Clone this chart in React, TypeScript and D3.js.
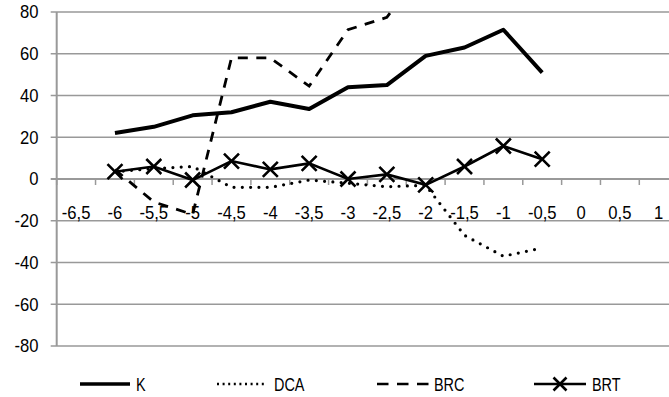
import React from "react";
import * as d3 from "d3";

const categories = ["-6,5", "-6", "-5,5", "-5", "-4,5", "-4", "-3,5", "-3", "-2,5", "-2", "-1,5", "-1", "-0,5", "0", "0,5", "1"];
const yTicks = [-80, -60, -40, -20, 0, 20, 40, 60, 80];

const seriesK: (number | null)[] = [null, 22, 25, 30.5, 32, 37, 33.5, 44, 45, 59, 63, 71.5, 51, null, null, null];
const seriesDCA: (number | null)[] = [null, 3.5, 5, 6, -4, -4, -0.5, -2, -3.7, -3, -27, -37, -33, null, null, null];
const seriesBRC: (number | null)[] = [null, 4.5, -11, -17, 58, 58, 44.5, 71.5, 77.4, 103, null, null, null, null, null, null];
const seriesBRT: (number | null)[] = [null, 3.5, 6, -0.5, 8.6, 4.6, 7.5, 0, 2.2, -2.8, 6, 15.8, 9.5, null, null, null];
const legendNames = ["K", "DCA", "BRC", "BRT"];

const W = 669;
const H = 397;
const left = 56.7;
const step = 38.84;
const top = 12;
const bottom = 346;
const font = "'Liberation Sans', Arial, sans-serif";

function T({ x, y, anchor, size, sx, children }: { x: number; y: number; anchor: "start" | "middle" | "end"; size: number; sx: number; children: React.ReactNode }) {
  return (
    <text transform={`translate(${x},${y}) scale(${sx},1)`} dy="0.36em" textAnchor={anchor} fontFamily={font} fontSize={size} fill="#000">
      {children}
    </text>
  );
}

export default function App() {
  const x = d3.scaleBand<string>().domain(categories).range([left, left + step * categories.length]).padding(0);
  const y = d3.scaleLinear().domain([-80, 80]).range([bottom, top]);
  const cx = (i: number) => (x(categories[i]) as number) + x.bandwidth() / 2;

  const line = d3
    .line<number | null>()
    .defined((d) => d !== null)
    .x((_, i) => cx(i))
    .y((d) => y(d as number));

  const gray = "#999999";
  const brtPts = seriesBRT.map((v, i) => (v === null ? null : [cx(i), y(v)])).filter(Boolean) as [number, number][];
  const X = (px: number, py: number, s: number, key: string) => (
    <path key={key} d={`M${px - s},${py - s}L${px + s},${py + s}M${px - s},${py + s}L${px + s},${py - s}`} stroke="#000" strokeWidth={2.6} fill="none" />
  );

  const legendY = 384;

  return (
    <svg width={W} height={H} style={{ position: "absolute", left: 0, top: 0, background: "#fff" }}>
      <defs>
        <clipPath id="plot">
          <rect x={left} y={top} width={W - left} height={bottom - top} />
        </clipPath>
      </defs>
      {yTicks.map((t) => (
        <g key={t}>
          <line x1={left - 6} x2={W} y1={y(t)} y2={y(t)} stroke={gray} strokeWidth={t === 0 ? 2 : 1.4} />
          <T x={38.5} y={y(t)} anchor="end" size={17.5} sx={0.95}>
            {t}
          </T>
        </g>
      ))}
      <line x1={left} x2={left} y1={top} y2={bottom} stroke={gray} strokeWidth={2} />
      {categories.map((c, i) => (
        <g key={c}>
          <line x1={x(c) as number} x2={x(c) as number} y1={y(0)} y2={y(0) + 6} stroke={gray} strokeWidth={1.5} />
          <T x={cx(i)} y={213} anchor="middle" size={17.5} sx={0.95}>
            {c}
          </T>
        </g>
      ))}
      <g clipPath="url(#plot)" fill="none">
        <path d={line(seriesDCA) || ""} stroke="#000" strokeWidth={3.2} strokeDasharray="0 8.3" strokeLinecap="round" />
        <path d={line(seriesBRC) || ""} stroke="#000" strokeWidth={2.8} strokeDasharray="10 8.5" />
        <path d={line(seriesK) || ""} stroke="#000" strokeWidth={4} strokeLinejoin="round" />
        <path d={line(seriesBRT) || ""} stroke="#000" strokeWidth={2.6} />
        {brtPts.map((p, i) => X(p[0], p[1], 7.5, "m" + i))}
      </g>
      <g>
        <line x1={80} x2={130} y1={legendY} y2={legendY} stroke="#000" strokeWidth={3.5} />
        <T x={136} y={legendY} anchor="start" size={19} sx={0.76}>{legendNames[0]}</T>
        <line x1={217} x2={265} y1={legendY} y2={legendY} stroke="#000" strokeWidth={2.5} strokeDasharray="2 3.6" />
        <T x={274} y={legendY} anchor="start" size={19} sx={0.76}>{legendNames[1]}</T>
        <line x1={377} x2={429} y1={legendY} y2={legendY} stroke="#000" strokeWidth={2.6} strokeDasharray="11.5 8.5" />
        <T x={434} y={legendY} anchor="start" size={19} sx={0.76}>{legendNames[2]}</T>
        <line x1={534} x2={586} y1={legendY} y2={legendY} stroke="#000" strokeWidth={2.6} />
        {X(560, legendY, 6.5, "lg")}
        <T x={592} y={legendY} anchor="start" size={19} sx={0.76}>{legendNames[3]}</T>
      </g>
    </svg>
  );
}
